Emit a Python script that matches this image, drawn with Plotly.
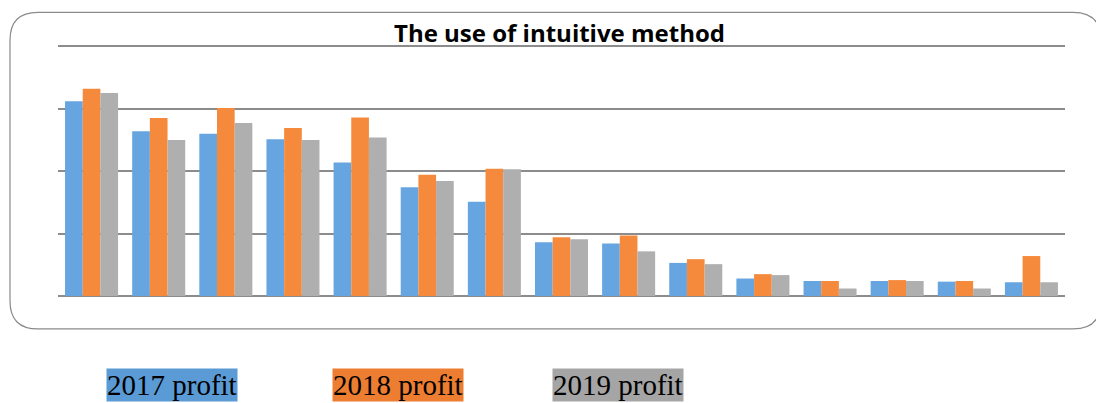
import plotly.graph_objects as go

categories = [f"Item {i}" for i in range(1, 16)]
profit_2017 = [31.2, 26.4, 26.0, 25.1, 21.4, 17.4, 15.1, 8.6, 8.4, 5.3, 2.8, 2.4, 2.4, 2.3, 2.2]
profit_2018 = [33.2, 28.5, 30.1, 26.9, 28.6, 19.4, 20.4, 9.4, 9.7, 5.9, 3.5, 2.4, 2.55, 2.4, 6.4]
profit_2019 = [32.5, 25.0, 27.7, 25.0, 25.4, 18.4, 20.3, 9.1, 7.15, 5.1, 3.35, 1.2, 2.4, 1.2, 2.2]
series_names = ["2017 profit", "2018 profit", "2019 profit"]
bar_colors = ["#66A5E0", "#F68A3C", "#AFAFAF"]
legend_colors = ["#5B9BD5", "#ED7D31", "#A5A5A5"]

# the page has an 8px body margin; figure coordinates = page coordinates - 8
OFF = 8
W, H = 1104 - OFF, 403 - OFF
YMAX = 40.2
PX_PER_UNIT = 6.25
L_PAGE, R_PAGE, BASE_PAGE = 58, 1065, 296
L = L_PAGE - OFF
R = R_PAGE - OFF
B = BASE_PAGE - OFF
T = B - YMAX * PX_PER_UNIT


def px(x):
    return (x - L_PAGE) / (R_PAGE - L_PAGE)


def py(y):
    return (BASE_PAGE - y) / (YMAX * PX_PER_UNIT)


fig = go.Figure()
for name, vals, col in zip(series_names, [profit_2017, profit_2018, profit_2019], bar_colors):
    fig.add_trace(go.Bar(x=categories, y=vals, name=name, marker_color=col,
                         marker_line_width=0))

# rounded border (page pixel coordinates)
x0, x1, y0, y1, r = 10, 1101, 12, 329, 28
path = (f"M {px(x0 + r)},{py(y0)} L {px(x1 - r)},{py(y0)} "
        f"Q {px(x1)},{py(y0)} {px(x1)},{py(y0 + r)} "
        f"L {px(x1)},{py(y1 - r)} Q {px(x1)},{py(y1)} {px(x1 - r)},{py(y1)} "
        f"L {px(x0 + r)},{py(y1)} Q {px(x0)},{py(y1)} {px(x0)},{py(y1 - r)} "
        f"L {px(x0)},{py(y0 + r)} Q {px(x0)},{py(y0)} {px(x0 + r)},{py(y0)} Z")
fig.add_shape(type="path", path=path, xref="paper", yref="paper",
              line=dict(color="#8a8a8a", width=1.2), layer="below")

annotations = [dict(text="<b>The use of intuitive method</b>", x=px(559), y=py(50.5),
                    xref="paper", yref="paper", xanchor="center", yanchor="bottom",
                    showarrow=False, font=dict(family="Open Sans", size=24, color="#000"))]
legend_x = [171.75, 398.3, 618.3]
for name, col, lx in zip(series_names, legend_colors, legend_x):
    annotations.append(dict(text=name, x=px(lx), y=py(385), xref="paper", yref="paper",
                            xanchor="center", yanchor="middle", showarrow=False,
                            bgcolor=col, borderpad=0,
                            font=dict(family="Liberation Serif", size=29, color="#000")))

fig.update_layout(
    width=W, height=H,
    margin=dict(l=L, r=W - R, t=T, b=H - B, pad=0),
    paper_bgcolor="white", plot_bgcolor="white",
    barmode="group", bargap=0.21, bargroupgap=0,
    showlegend=False,
    annotations=annotations,
    xaxis=dict(showticklabels=False, showgrid=False, zeroline=False, ticks="",
               showline=False),
    yaxis=dict(range=[0, YMAX], tickvals=[10, 20, 30, 40], showticklabels=False,
               showgrid=True, gridcolor="#8c8c8c", gridwidth=2.2, zeroline=True,
               zerolinecolor="#8c8c8c", zerolinewidth=2.2, ticks="", showline=False),
)

fig.write_html("out.html")
